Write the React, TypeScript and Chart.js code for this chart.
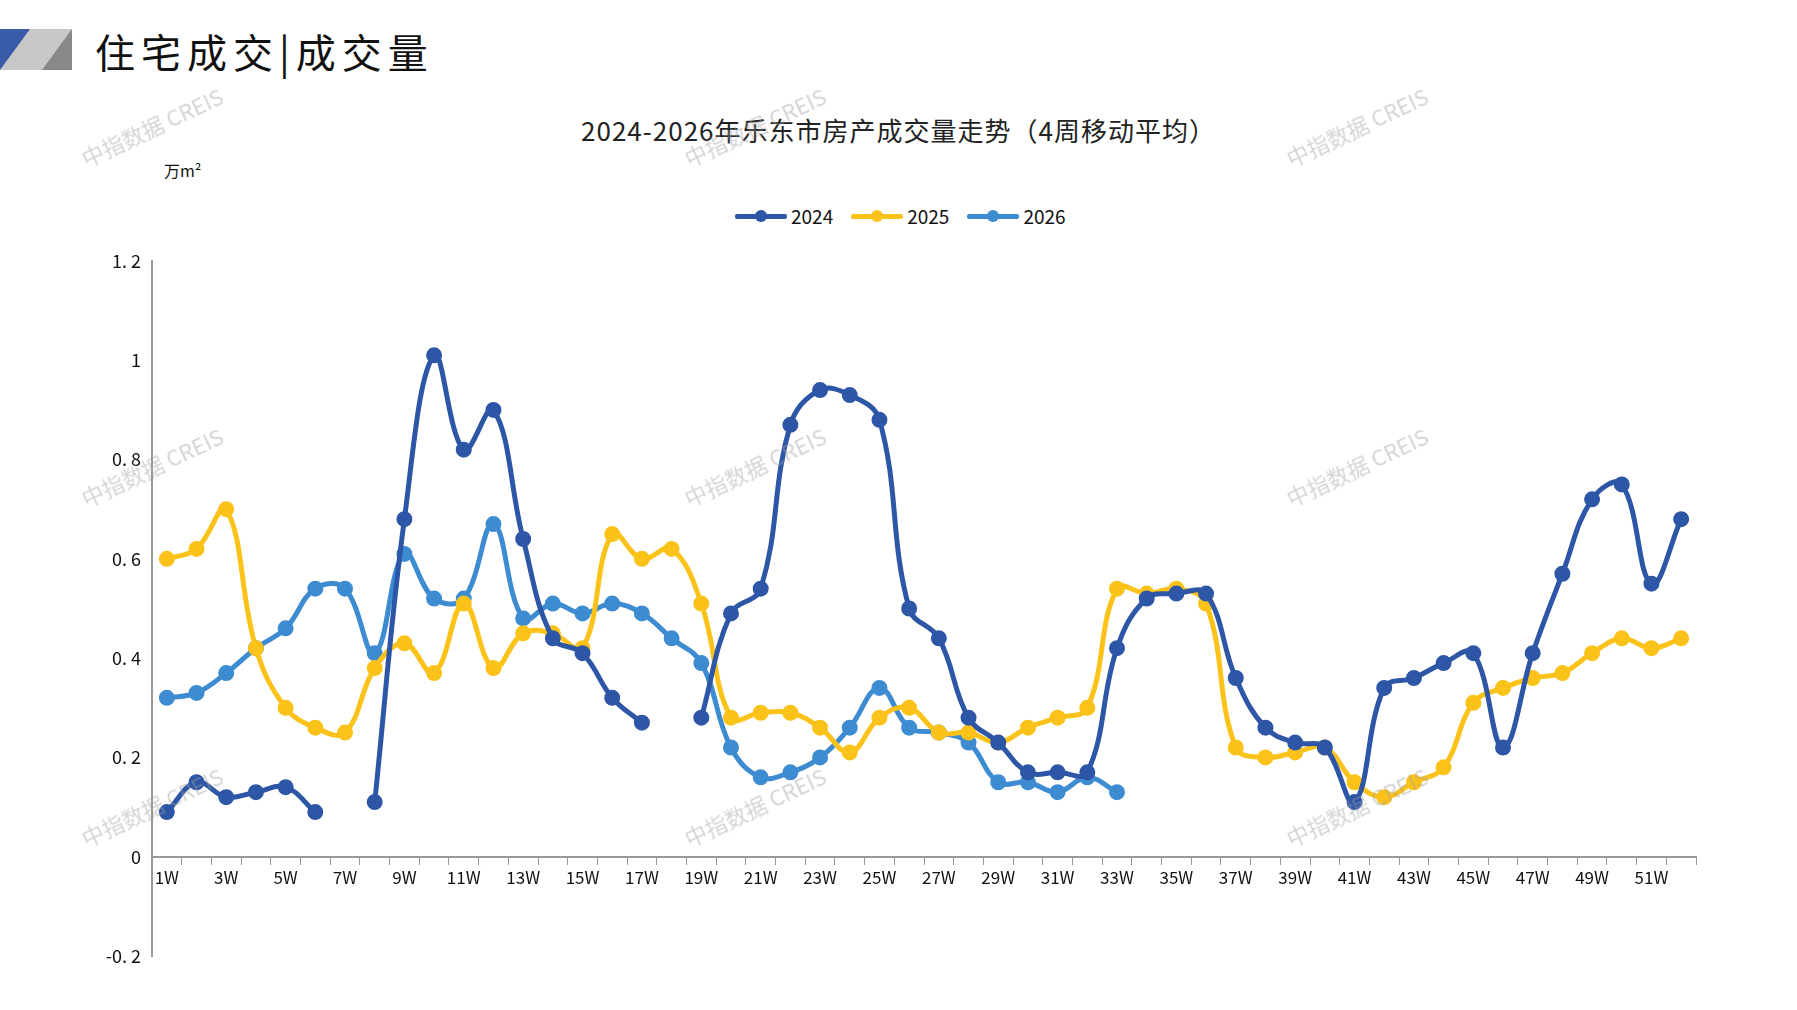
import React, { useEffect, useRef } from "react";
import { Chart, registerables } from "chart.js";
Chart.register(...registerables);

const weeks = Array.from({ length: 52 }, (_, i) => `${i + 1}W`);
const s2024 = [0.09,0.15,0.12,0.13,0.14,0.09,null,0.11,0.68,1.01,0.82,0.90,0.64,0.44,0.41,0.32,0.27,null,0.28,0.49,0.54,0.87,0.94,0.93,0.88,0.50,0.44,0.28,0.23,0.17,0.17,0.17,0.42,0.52,0.53,0.53,0.36,0.26,0.23,0.22,0.11,0.34,0.36,0.39,0.41,0.22,0.41,0.57,0.72,0.75,0.55,0.68];
const s2025 = [0.60,0.62,0.70,0.42,0.30,0.26,0.25,0.38,0.43,0.37,0.51,0.38,0.45,0.45,0.42,0.65,0.60,0.62,0.51,0.28,0.29,0.29,0.26,0.21,0.28,0.30,0.25,0.25,0.23,0.26,0.28,0.30,0.54,0.53,0.54,0.51,0.22,0.20,0.21,0.22,0.15,0.12,0.15,0.18,0.31,0.34,0.36,0.37,0.41,0.44,0.42,0.44];
const s2026 = [0.32,0.33,0.37,0.42,0.46,0.54,0.54,0.41,0.61,0.52,0.52,0.67,0.48,0.51,0.49,0.51,0.49,0.44,0.39,0.22,0.16,0.17,0.20,0.26,0.34,0.26,0.25,0.23,0.15,0.15,0.13,0.16,0.13];
const seriesNames = ["2024", "2025", "2026"];
const colors = ["#2E56A6", "#FBC21A", "#3D8BD0"];

const FONT = "'Noto Sans CJK SC', 'Noto Sans', sans-serif";

export default function App() {
  const ref = useRef<HTMLCanvasElement>(null);
  useEffect(() => {
    const data = [s2024, s2025, s2026];
    const chart = new Chart(ref.current!, {
      type: "line",
      data: {
        labels: weeks,
        datasets: data.map((d, i) => ({
          label: seriesNames[i],
          data: d,
          borderColor: colors[i],
          backgroundColor: colors[i],
          borderWidth: 5,
          pointRadius: 5.5,
          pointHoverRadius: 5.5,
          tension: 0.4,
          spanGaps: false,
        })),
      },
      options: {
        animation: false,
        responsive: false,
        layout: { padding: { left: 0, right: 101, top: 261, bottom: 54 } },
        plugins: { legend: { display: false }, title: { display: false }, tooltip: { enabled: false } },
        scales: {
          x: {
            position: { y: 0 } as any,
            offset: true,
            grid: { display: true, drawOnChartArea: false, drawTicks: true, tickLength: 7, color: "#999", offset: true } as any,
            border: { color: "#999", width: 2 },
            ticks: {
              autoSkip: false,
              maxRotation: 0,
              color: "#111",
              padding: 4,
              font: { family: FONT, size: 17 },
              callback: (_v: any, i: number) => (i % 2 === 0 ? weeks[i] : ""),
            },
          },
          y: {
            min: -0.2,
            max: 1.2,
            afterFit: (s: any) => { s.width = 152; },
            grid: { display: false },
            border: { color: "#999", width: 2 },
            ticks: {
              stepSize: 0.2,
              color: "#111",
              font: { family: FONT, size: 18 },
              callback: (v: any) => {
                const n = Math.round(Number(v) * 10) / 10;
                return n === 0 || n === 1 ? String(n) : n.toFixed(1).replace(".", ". ");
              },
            },
          },
        },
      },
    });
    return () => chart.destroy();
  }, []);

  const wm = (x: number, y: number) => (
    <div style={{ position: "absolute", left: x, top: y, transform: "rotate(-25deg)", color: "rgba(160,160,160,0.45)", fontFamily: FONT, fontSize: 22, whiteSpace: "nowrap", pointerEvents: "none" }}>中指数据 CREIS</div>
  );

  return (
    <div style={{ position: "absolute", left: 0, top: 0, width: 1797, height: 1010, background: "#fff", overflow: "hidden", margin: 0 }}>
      <div style={{ position: "absolute", left: 0, top: 29, width: 72, height: 41, background: "#c8c8c8" }} />
      <div style={{ position: "absolute", left: 0, top: 29, width: 0, height: 0, borderTop: "41px solid #3a5ba8", borderRight: "30px solid transparent" }} />
      <div style={{ position: "absolute", left: 42, top: 29, width: 0, height: 0, borderBottom: "41px solid #888", borderLeft: "30px solid transparent" }} />
      <div style={{ position: "absolute", left: 95, top: 22, fontFamily: FONT, fontSize: 40, color: "#111", letterSpacing: 6 }}>住宅成交|成交量</div>
      <div style={{ position: "absolute", left: 0, width: 1797, top: 111, textAlign: "center", fontFamily: FONT, fontSize: 26, color: "#222", paddingRight: 70, letterSpacing: 1 }}>2024-2026年乐东市房产成交量走势（4周移动平均）</div>
      <div style={{ position: "absolute", left: 164, top: 158, fontFamily: FONT, fontSize: 16, color: "#111" }}>万m²</div>
      <div style={{ position: "absolute", left: 735, top: 202, display: "flex", gap: 18, fontFamily: FONT, fontSize: 19, color: "#111" }}>
        {seriesNames.map((n, i) => (
          <div key={n} style={{ display: "flex", alignItems: "center", gap: 4 }}>
            <div style={{ position: "relative", width: 52, height: 12 }}>
              <div style={{ position: "absolute", left: 0, top: 4, width: 52, height: 5, background: colors[i], borderRadius: 2 }} />
              <div style={{ position: "absolute", left: 20, top: 0, width: 12, height: 12, background: colors[i], borderRadius: 6 }} />
            </div>
            <span>{n}</span>
          </div>
        ))}
      </div>
      <canvas ref={ref} width={1797} height={1010} style={{ position: "absolute", left: 0, top: 0 }} />
      {wm(75, 110)}{wm(678, 110)}{wm(1280, 110)}
      {wm(75, 450)}{wm(678, 450)}{wm(1280, 450)}
      {wm(75, 790)}{wm(678, 790)}{wm(1280, 790)}
    </div>
  );
}
